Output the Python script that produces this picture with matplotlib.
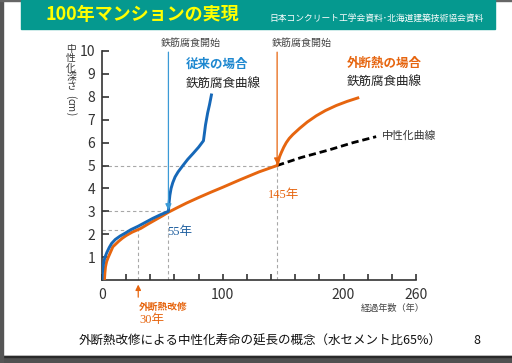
import matplotlib
matplotlib.use("Agg")
import matplotlib.pyplot as plt
from matplotlib.patches import Rectangle

plt.rcParams['font.family'] = ['Noto Sans CJK JP', 'DejaVu Sans']

W, H = 512, 363

# conventional case: neutralization until 55 years, then rebar corrosion
blue_years = [0, 0.3, 0.8, 1.5, 2.5, 4, 6, 8, 11, 15, 19, 24, 30, 36, 42, 48, 55,
              55.5, 56.2, 57.2, 58.6, 60.5, 63, 67, 71, 75.5, 80, 84, 84.8, 85.7, 87.5, 89, 90.6]
blue_depth = [0, 0.3, 0.55, 0.8, 1.0, 1.2, 1.42, 1.6, 1.77, 1.92, 2.04, 2.2, 2.35, 2.52, 2.69, 2.84, 3.0,
              3.35, 3.7, 4.0, 4.25, 4.5, 4.72, 5.0, 5.27, 5.53, 5.8, 6.08, 6.4, 6.77, 7.3, 7.65, 8.08]

# external insulation retrofit at 30 years, corrosion from 145 years
orange_years = [2, 2.4, 2.9, 3.8, 5, 6.5, 9, 11, 14, 17, 20, 25, 32, 38, 44, 50, 55, 62, 70, 80, 90,
                100, 114, 130, 145, 146, 147, 148.5, 150.5, 152.6, 155, 158, 163.6, 170, 177.4, 185,
                194, 203, 211.8]
orange_depth = [0, 0.32, 0.58, 0.8, 0.97, 1.15, 1.45, 1.55, 1.7, 1.83, 1.94, 2.09, 2.25, 2.44, 2.62, 2.8,
                2.96, 3.15, 3.36, 3.6, 3.83, 4.05, 4.37, 4.72, 5.0, 5.2, 5.38, 5.57, 5.8, 6.0, 6.18,
                6.35, 6.62, 6.9, 7.17, 7.4, 7.62, 7.8, 7.95]

# neutralization curve after 145 years
neutral_years = [145, 165, 188, 208, 227]
neutral_depth = [5.0, 5.35, 5.68, 6.0, 6.26]

retrofit_year, retrofit_depth = 30, 2.2
start_years = [55, 145]
start_depths = [3.0, 5.0]

x_ticks = list(range(0, 261, 20))
x_labels = ['0', '100', '200', '260']
y_ticks = list(range(1, 11))

BLUE = '#1668b8'
LBLUE = '#3b9ad6'
ORANGE = '#e6650f'
GRID = '#a8a8a8'
DARK = '#333333'


def P(x, y):
    return x / W, 1 - y / H


fig = plt.figure(figsize=(W / 100, H / 100), dpi=100)
fig.patch.set_facecolor('white')

# slide frame
fig.patches.append(Rectangle(P(0, 363), 1, 7 / H, transform=fig.transFigure, color='#505050', zorder=0))
fig.patches.append(Rectangle(P(0, 357), 1, 1.2 / H, transform=fig.transFigure, color='#2a2a2a', zorder=0))
fig.patches.append(Rectangle(P(0, 363), 2.5 / W, 1, transform=fig.transFigure, color='#555555', zorder=0))
fig.patches.append(Rectangle(P(0, 1), 1, 1 / H, transform=fig.transFigure, color='#666666', zorder=0))
fig.patches.append(Rectangle(P(21, 29), 474 / W, 29 / H, transform=fig.transFigure, color='#05998f', zorder=0))

fig.text(*P(142, 15), '100年マンションの実現', color='#ffff00', fontsize=13, fontweight='bold', ha='center', va='center')
fig.text(*P(377, 19), '日本コンクリート工学会資料･北海道建築技術協会資料', color='white', fontsize=6.3, ha='center', va='center')

ax = fig.add_axes([102 / W, 83 / H, 314 / W, 229 / H])
ax.set_xlim(0, 260)
ax.set_ylim(0, 10)
for s in ['top', 'right']:
    ax.spines[s].set_visible(False)
for s in ['left', 'bottom']:
    ax.spines[s].set_color(DARK)
    ax.spines[s].set_linewidth(1.2)

ax.set_xticks(x_ticks)
ax.set_xticklabels([str(t) if str(t) in x_labels else '' for t in x_ticks])
ax.set_yticks(y_ticks)
ax.tick_params(axis='x', direction='in', length=4, width=1.2, color=DARK, labelsize=10, labelcolor=DARK, pad=6)
ax.tick_params(axis='y', direction='in', length=5, width=1.2, color=DARK, labelsize=10, labelcolor=DARK, pad=5)

# guide lines
gk = dict(color=GRID, lw=0.8, dashes=(3, 2.5), zorder=1)
ax.plot([0, 145], [5, 5], **gk)
ax.plot([0, 55], [3, 3], **gk)
ax.plot([0, retrofit_year], [retrofit_depth, retrofit_depth], **gk)
ax.plot([retrofit_year, retrofit_year], [0, retrofit_depth], **gk)
for yr, d in zip(start_years, start_depths):
    ax.plot([yr, yr], [0, d], **gk)

ax.plot(neutral_years, neutral_depth, color='black', lw=2, dashes=(2.6, 1.4), zorder=2)
ax.plot(orange_years, orange_depth, color=ORANGE, lw=2.1, zorder=3, solid_joinstyle='round')
ax.plot(blue_years, blue_depth, color=BLUE, lw=2.1, zorder=4, solid_joinstyle='round')

for yr, d, c in zip(start_years, start_depths, [LBLUE, ORANGE]):
    ax.annotate('', xy=(yr, d + 0.05), xytext=(yr, 9.95),
                arrowprops=dict(arrowstyle='-|>', color=c, lw=0.9, mutation_scale=9, shrinkA=0, shrinkB=0), zorder=5)

ax.annotate('', xy=(retrofit_year, -0.2), xytext=(retrofit_year, -0.75), annotation_clip=False,
            arrowprops=dict(arrowstyle='-|>', color=ORANGE, lw=0.9, mutation_scale=8, shrinkA=0, shrinkB=0))

# y label (vertical writing)
ychars = ['中', '性', '化', '深', 'さ', '(', 'cm', ')']
ypos = [49, 58, 67.5, 77, 86.5, 97, 105.5, 114]
for ch, yy in zip(ychars, ypos):
    rot = 0 if ch in '中性化深さ' else 270
    fig.text(*P(71, yy), ch, fontsize=7, color=DARK, ha='center', va='center', rotation=rot)

fig.text(*P(191, 43), '鉄筋腐食開始', fontsize=7.2, color='#444444', ha='center', va='center')
fig.text(*P(302, 43), '鉄筋腐食開始', fontsize=7.2, color='#444444', ha='center', va='center')
fig.text(*P(186, 64), '従来の場合', fontsize=9, fontweight='bold', color='#1e88d0', ha='left', va='center')
fig.text(*P(186, 84), '鉄筋腐食曲線', fontsize=9, color='#222222', ha='left', va='center')
fig.text(*P(347, 63), '外断熱の場合', fontsize=9, fontweight='bold', color=ORANGE, ha='left', va='center')
fig.text(*P(347, 82), '鉄筋腐食曲線', fontsize=9, color='#222222', ha='left', va='center')
fig.text(*P(382, 136), '中性化曲線', fontsize=7.8, color=DARK, ha='left', va='center')

serif = ['Liberation Serif', 'Noto Sans CJK JP']
fig.text(*P(284, 195), '145年', fontsize=9, color=ORANGE, family=serif, ha='center', va='center')
fig.text(*P(180, 232), '55年', fontsize=9, color='#1f5f9f', family=serif, ha='center', va='center')
fig.text(*P(163, 307), '外断熱改修', fontsize=7, fontweight='bold', color=ORANGE, ha='center', va='center')
fig.text(*P(152, 320), '30年', fontsize=9, color=ORANGE, family=serif, ha='center', va='center')
fig.text(*P(425, 308), '経過年数（年）', fontsize=6.6, color='#444444', ha='right', va='center')

fig.text(*P(260, 341), '外断熱改修による中性化寿命の延長の概念（水セメント比65%）', fontsize=9, color='#111111', ha='center', va='center')
fig.text(*P(477, 341), '8', fontsize=9, color='#111111', ha='center', va='center')

fig.savefig('out.png', dpi=100)
